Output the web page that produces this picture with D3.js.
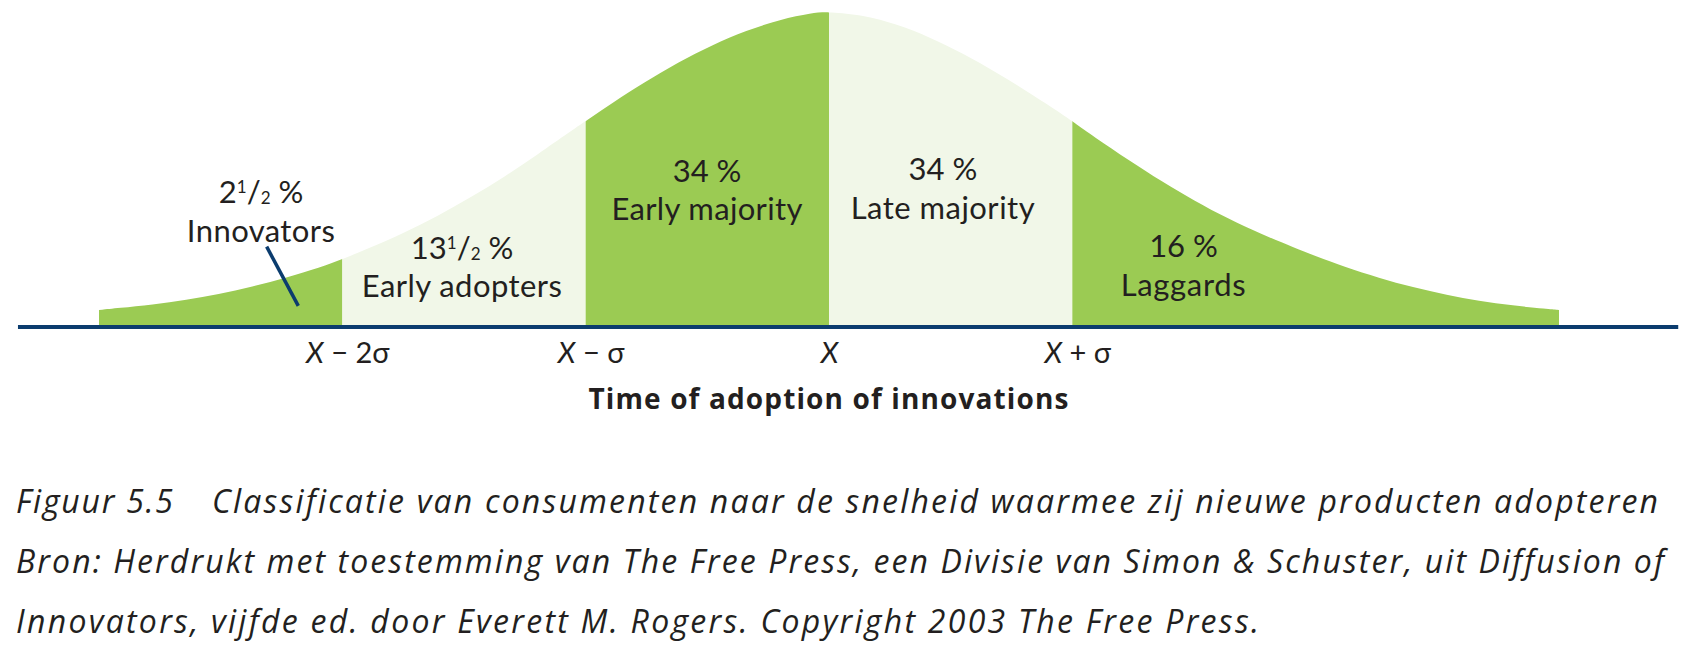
<!DOCTYPE html>
<html><head><meta charset="utf-8">
<script src="https://cdn.jsdelivr.net/npm/d3@7"></script>
<style>
html,body{margin:0;padding:0;background:#fff;}
svg{display:block;}
text{fill:#231f20;}
</style></head><body>
<svg id="chart" width="1694" height="650"></svg>
<script>
// ---- data ----
// position along the time axis, in standard deviations from the mean
const sigma = [-3, -2.92, -2.78, -2.64, -2.51, -2.37, -2.23, -2.09,
  -2, -1.89, -1.75, -1.61, -1.47, -1.33, -1.2, -1.06,
  -1, -0.89, -0.76, -0.62, -0.48, -0.34, -0.2, -0.07,
  0, 0.14, 0.28, 0.41, 0.55, 0.69, 0.83, 0.97,
  1, 1.09, 1.23, 1.37, 1.5, 1.64, 1.78, 1.91,
  2, 2.12, 2.26, 2.4, 2.54, 2.67, 2.81, 2.95, 3];
// curve height, as % of the peak
const density = [4.8, 5.4, 6.5, 8.0, 9.8, 12.2, 15.1, 18.4,
  21.0, 24.5, 29.2, 34.7, 40.8, 47.5, 54.3, 61.9,
  65.1, 70.9, 77.4, 83.8, 89.4, 94.0, 97.5, 99.6,
  100, 98.9, 96.0, 92.0, 86.7, 80.5, 73.8, 66.7,
  65.0, 60.0, 52.7, 45.7, 39.7, 33.9, 28.9, 24.7,
  22.0, 18.5, 15.0, 12.0, 9.6, 7.7, 6.2, 5.1, 4.8];
const segmentNames = ["Innovators", "Early adopters", "Early majority", "Late majority", "Laggards"];
const segmentShares = [2.5, 13.5, 34, 34, 16];
const segmentBounds = [-3, -2, -1, 0, 1, 3];
const tickValues = [-2, -1, 0, 1];
const tickLabels = [["X", " − 2σ"], ["X", " − σ"], ["X", ""], ["X", " + σ"]];
const axisTitle = "Time of adoption of innovations";
const captionHead = "Figuur 5.5";
const captionLines = [
  "Classificatie van consumenten naar de snelheid waarmee zij nieuwe producten adopteren",
  "Bron: Herdrukt met toestemming van The Free Press, een Divisie van Simon & Schuster, uit Diffusion of",
  "Innovators, vijfde ed. door Everett M. Rogers. Copyright 2003 The Free Press."
];
const pointerSigma = [-2.311, -2.181];
const pointerDensity = [25.0, 6.1];

// ---- layout / style ----
const GREEN = "#9bcb53", PALE = "#f1f7e8", NAVY = "#0b3c6e";
const LABEL_FONT = "Lato, 'Open Sans', sans-serif";
const CAPTION_FONT = "'Open Sans', Lato, sans-serif";
const segmentFill = [GREEN, PALE, GREEN, PALE, GREEN];
const labelLayout = [  // centre (sigma), baselines (px), name width (px)
  {cx: -2.334, y1: 203, y2: 242, w: 148},
  {cx: -1.508, y1: 259, y2: 297, w: 200},
  {cx: -0.501, y1: 182, y2: 220, w: 191},
  {cx: 0.468, y1: 180, y2: 219, w: 184},
  {cx: 1.457, y1: 257, y2: 296, w: 125}
];
const axisExtent = [-3.333, 3.49];

const svg = d3.select("#chart");
const x = d3.scaleLinear().domain([-3, 3]).range([99, 1559]);
const y = d3.scaleLinear().domain([0, 100]).range([325, 11.7]);
const pts = sigma.map((s, i) => [s, density[i]]);

function fit(node, target) {
  const w = node.getComputedTextLength();
  const n = node.textContent.length;
  if (n > 1) d3.select(node).style("letter-spacing", ((target - w) / (n - 1)) + "px");
}

const area = d3.area()
  .x(d => x(d[0])).y0(y(0)).y1(d => y(d[1]))
  .curve(d3.curveBasis);

const defs = svg.append("defs");
segmentFill.forEach((f, i) => {
  defs.append("clipPath").attr("id", "seg" + i)
    .append("rect")
    .attr("x", x(segmentBounds[i])).attr("y", 0)
    .attr("width", x(segmentBounds[i + 1]) - x(segmentBounds[i]))
    .attr("height", y(0) + 1);
  svg.append("path").datum(pts)
    .attr("d", area).attr("fill", f)
    .attr("clip-path", `url(#seg${i})`);
});

// axis line
svg.append("line")
  .attr("x1", x(axisExtent[0])).attr("x2", x(axisExtent[1]))
  .attr("y1", y(0) + 2).attr("y2", y(0) + 2)
  .attr("stroke", NAVY).attr("stroke-width", 4);

// ticks
const axis = d3.axisBottom(x).tickValues(tickValues).tickSize(0).tickFormat("");
const gAxis = svg.append("g").attr("transform", `translate(0,${y(0) + 2})`).call(axis);
gAxis.select(".domain").remove();
gAxis.selectAll(".tick text").each(function (d, i) {
  const t = d3.select(this).attr("y", 36).attr("dy", 0)
    .attr("dx", tickLabels[i][1] ? 5 : 0)
    .style("font-size", "29px").style("font-family", LABEL_FONT)
    .attr("fill", "#231f20").attr("text-anchor", "middle");
  t.append("tspan").style("font-style", "italic").text(tickLabels[i][0]);
  if (tickLabels[i][1]) t.append("tspan").text(tickLabels[i][1]);
});

// axis title
const title = svg.append("text")
  .attr("x", x(0)).attr("y", 408.5)
  .attr("text-anchor", "middle")
  .style("font-size", "28px").style("font-weight", 700)
  .style("font-family", CAPTION_FONT)
  .text(axisTitle);
fit(title.node(), 480);

// segment labels
const FS = 31;
function writeShare(t, v) {
  const whole = Math.floor(v);
  t.append("tspan").text(whole);
  if (v - whole > 0) {
    t.append("tspan").style("font-size", (FS * 0.55) + "px").attr("dy", -FS * 0.31).text("1");
    t.append("tspan").attr("dy", FS * 0.31).text("/");
    t.append("tspan").style("font-size", (FS * 0.55) + "px").attr("dy", FS * 0.04).text("2");
    t.append("tspan").attr("dy", -FS * 0.04).text(" %");
  } else {
    t.append("tspan").text(" %");
  }
}
segmentNames.forEach((name, i) => {
  const L = labelLayout[i];
  const t1 = svg.append("text").attr("x", x(L.cx)).attr("y", L.y1)
    .attr("text-anchor", "middle")
    .style("font-size", FS + "px").style("font-family", LABEL_FONT);
  writeShare(t1, segmentShares[i]);
  const t2 = svg.append("text").attr("x", x(L.cx)).attr("y", L.y2)
    .attr("text-anchor", "middle")
    .style("font-size", FS + "px").style("font-family", LABEL_FONT)
    .text(name);
  fit(t2.node(), L.w);
});

// innovators pointer
svg.append("line")
  .attr("x1", x(pointerSigma[0])).attr("y1", y(pointerDensity[0]))
  .attr("x2", x(pointerSigma[1])).attr("y2", y(pointerDensity[1]))
  .attr("stroke", NAVY).attr("stroke-width", 3.5);

// caption
const capY = [513, 573, 633];
const capEnd = [1658, 1664, 1259];
const capX = 16, capTab = 212, capHeadEnd = 173;
captionLines.forEach((line, i) => {
  const t = svg.append("text").attr("y", capY[i])
    .style("font-size", "32px").style("font-style", "italic")
    .style("font-family", CAPTION_FONT);
  if (i === 0) {
    const h = t.append("tspan").attr("x", capX).text(captionHead);
    fit(h.node(), capHeadEnd - capX);
    const s = t.append("tspan").attr("x", capTab).text(line);
    fit(s.node(), capEnd[i] - capTab);
  } else {
    t.attr("x", capX).text(line);
    fit(t.node(), capEnd[i] - capX);
  }
});
</script>
</body></html>
